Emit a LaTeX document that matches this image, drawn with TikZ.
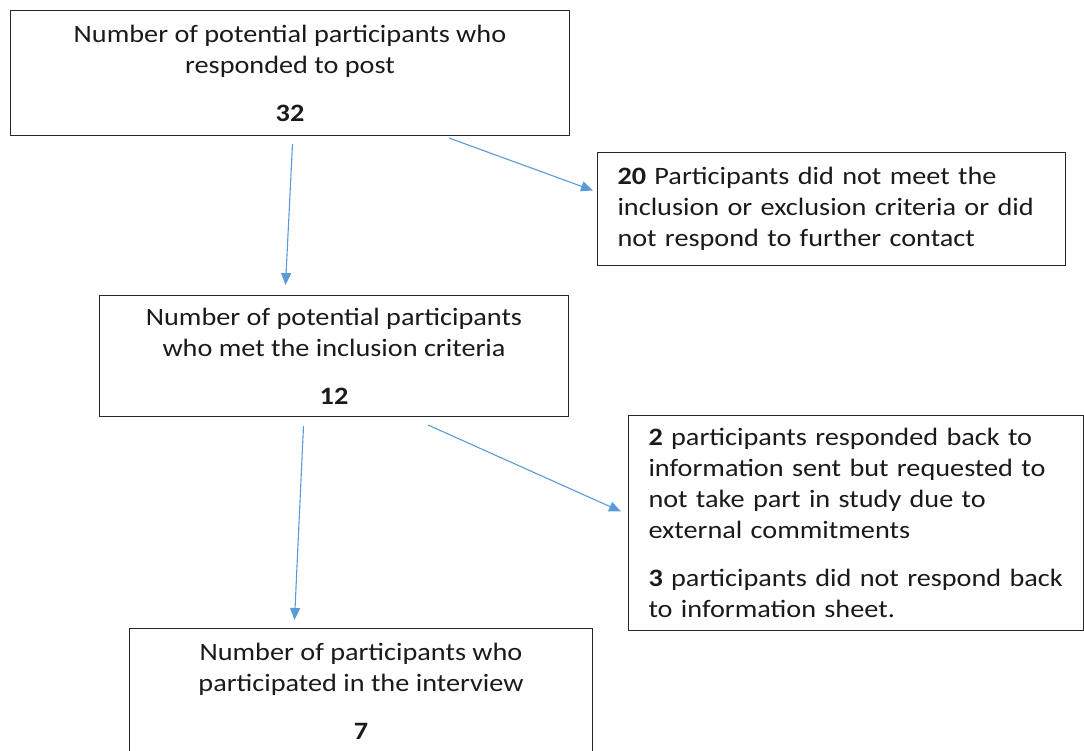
\documentclass[tikz,border=0pt]{standalone}
\usepackage{fontspec}
\setmainfont{Carlito}[FakeStretch=1.13]
\usetikzlibrary{arrows.meta,calc}
\definecolor{arrowblue}{HTML}{5B9BD5}
\definecolor{txt}{HTML}{1A1A1A}
\tikzset{
  box/.style={draw=black!85, line width=1pt, inner ysep=0pt, text=txt,
    font=\fontsize{25}{31}\selectfont, anchor=north west},
  cbox/.style={box, align=center, inner xsep=0pt},
  lbox/.style={box, align=left, inner xsep=20pt},
  flow/.style={draw=arrowblue, line width=1.1pt, -{Triangle[length=12pt,width=10pt]}},
}
\begin{document}
\begin{tikzpicture}
\useasboundingbox (0,0) rectangle (1084pt,-751pt);
\begin{scope}
\clip (0,0) rectangle (1084pt,-751pt);
\node[cbox, minimum width=559pt, minimum height=125pt] (n1) at (10pt,-10pt)
  {Number of potential participants who\\responded to post\\[17pt]\textbf{32}};
\node[lbox, text width=428pt, minimum height=113pt] (n2) at (597pt,-152pt)
  {\mbox{\textbf{20} Participants did not meet the}\\\mbox{inclusion or exclusion criteria or did}\\\mbox{not respond to further contact}};
\node[cbox, minimum width=469pt, minimum height=121pt] (n3) at (99pt,-295pt)
  {Number of potential participants\\who met the inclusion criteria\\[17pt]\textbf{12}};
\node[lbox, text width=415pt, minimum height=215pt] (n4) at (628pt,-415pt)
  {\mbox{\textbf{2} participants responded back to}\\\mbox{information sent but requested to}\\\mbox{not take part in study due to}\\\mbox{external commitments}\\[17pt]\mbox{\textbf{3} participants did not respond back}\\\mbox{to information sheet.}};
\node[cbox, minimum width=463pt, minimum height=125pt] (n5) at (129pt,-628pt)
  {Number of participants who\\participated in the interview\\[17pt]\textbf{7}};
\end{scope}
\draw[flow] ($(n1.south)+(2.5pt,-8pt)$) -- ($(n3.north)+(-48.5pt,10pt)$);
\draw[flow] ($(n1.south east)+(-121pt,-2pt)$) -- ($(n2.west)+(-4pt,18.5pt)$);
\draw[flow] ($(n3.south)+(-30.5pt,-9pt)$) -- ($(n5.north)+(-66.5pt,8pt)$);
\draw[flow] ($(n3.south east)+(-141pt,-8pt)$) -- ($(n4.west)+(-7pt,11.5pt)$);
\end{tikzpicture}
\end{document}
